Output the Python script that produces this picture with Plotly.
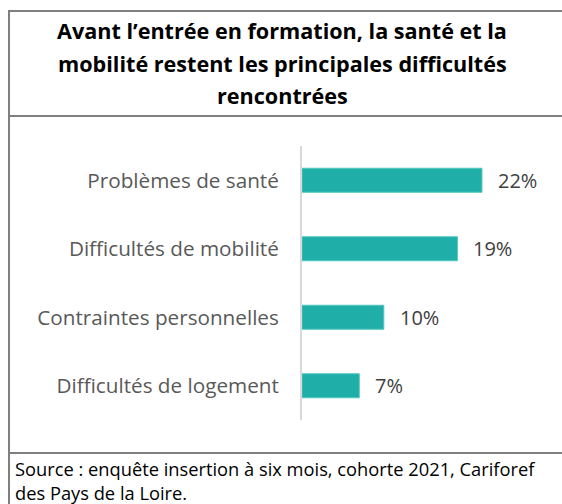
import plotly.graph_objects as go

categories = ["Problèmes de santé", "Difficultés de mobilité",
              "Contraintes personnelles", "Difficultés de logement"]
values = [22, 19, 10, 7]
title_lines = ["Avant l’entrée en formation, la santé et la",
               "mobilité restent les principales difficultés",
               "rencontrées"]
source_lines = ["Source : enquête insertion à six mois, cohorte 2021, Cariforef",
                "des Pays de la Loire."]

W, H = 562, 504
L, R, T, B = 302, 0, 146, 84
FONT = "Open Sans"


def px_x(p):
    # page pixel -> paper x
    return (p - L) / (W - L - R)


def px_y(p):
    # page pixel -> paper y
    return (H - B - p) / (H - T - B)


fig = go.Figure(go.Bar(
    x=values, y=categories, orientation="h",
    marker=dict(color="#20AFA8", line=dict(color="#4FC6BF", width=1)),
    width=0.35, hoverinfo="skip",
))

# value labels next to bars
for c, v in zip(categories, values):
    fig.add_annotation(x=v, y=c, text=f"{v}%", showarrow=False,
                       xanchor="left", xshift=14,
                       font=dict(family=FONT, size=20, color="#404040"))

# title lines
for line, yp in zip(title_lines, [30, 63, 96]):
    fig.add_annotation(x=px_x(282), y=px_y(yp), xref="paper", yref="paper",
                       text=f"<b>{line}</b>", showarrow=False,
                       xanchor="center", yanchor="middle",
                       font=dict(family=FONT, size=21.6, color="#000000"))

# source (one block, two lines)
fig.add_annotation(x=px_x(13), y=px_y(480), xref="paper", yref="paper",
                   text="<br>".join(source_lines), showarrow=False,
                   xanchor="left", yanchor="middle", align="left",
                   font=dict(family=FONT, size=18.3, color="#000000"))

# frame lines
border = dict(color="#7F7F7F", width=2)
for yl in [11, 116, 453]:
    fig.add_shape(type="line", xref="paper", yref="paper",
                  x0=px_x(9), x1=px_x(575), y0=px_y(yl), y1=px_y(yl), line=border)
fig.add_shape(type="line", xref="paper", yref="paper",
              x0=px_x(9), x1=px_x(9), y0=px_y(10), y1=px_y(515), line=border)

fig.update_layout(
    width=W, height=H,
    margin=dict(l=L, r=R, t=T, b=B, autoexpand=False),
    paper_bgcolor="white", plot_bgcolor="white",
    showlegend=False,
    bargap=0.65,
)
fig.update_xaxes(range=[0, (W - L - R) / 8.18], visible=False, fixedrange=True)
fig.update_yaxes(autorange="reversed", showline=True, linecolor="#D9D9D9",
                 linewidth=2, showgrid=False, ticks="", ticklabelstandoff=17,
                 tickfont=dict(family=FONT, size=20.7, color="#595959"),
                 fixedrange=True)

fig.write_html("out.html", config={"displayModeBar": False},
               post_script="document.body.style.margin='0';")
